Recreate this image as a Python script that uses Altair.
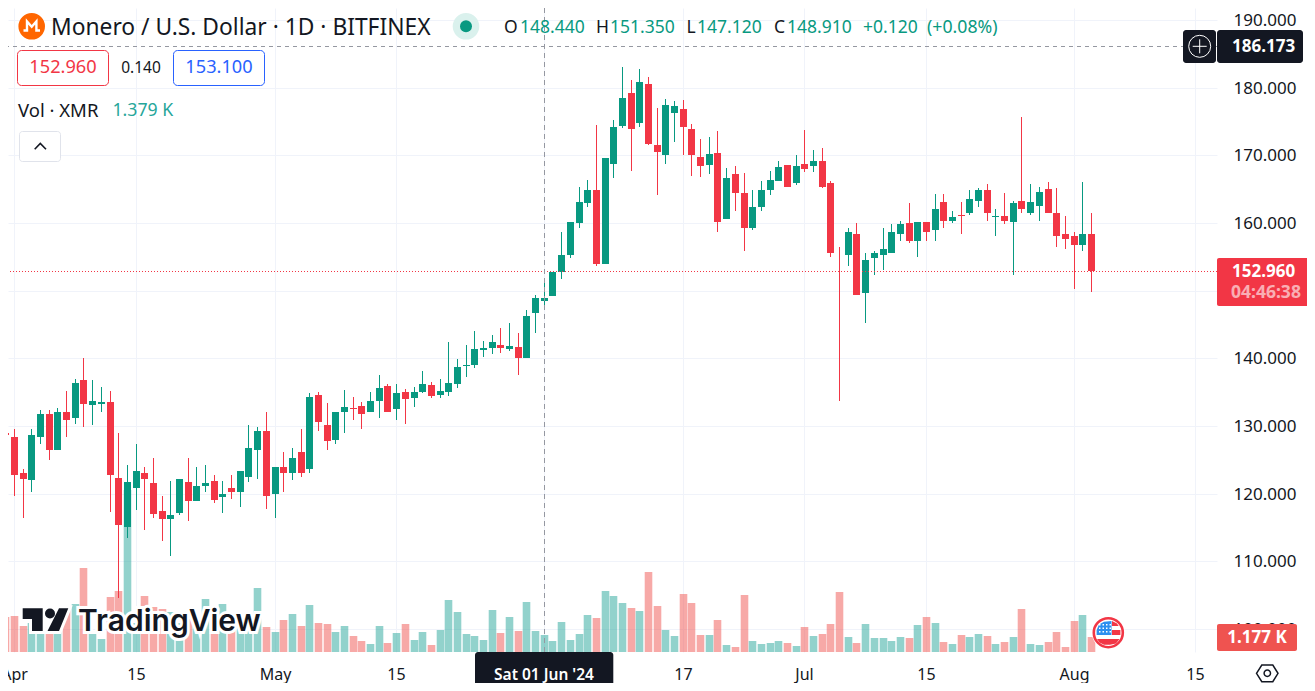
import altair as alt
import pandas as pd

# ---- data ----
start_date = "2024-03-31"
opens = [129.0,
 128.4,123.1,122.0,128.3,131.7,126.4,132.0,131.2,136.8,133.1,133.3,133.6,122.3,115.0,120.9,123.0,121.5,117.4,116.2,117.1,121.7,118.9,121.2,121.8,119.5,120.8,120.3,122.5,126.4,129.2,
 120.0,123.9,123.0,126.1,123.7,134.6,130.2,127.9,132.0,132.7,133.0,132.1,133.7,135.9,132.5,135.0,134.2,135.0,136.1,134.6,135.0,136.2,138.87,139.0,141.2,141.5,142.0,141.4,141.7,140.0,146.7,
 148.44,149.2,152.7,155.2,160.0,163.0,164.8,154.0,168.7,174.3,179.2,174.8,180.5,171.5,170.0,176.2,176.8,173.9,169.8,168.6,170.3,160.6,167.3,164.5,159.2,162.4,164.9,166.2,168.6,165.9,
 168.7,168.4,169.2,165.9,155.6,155.3,158.4,149.6,154.8,155.3,155.6,158.4,160.0,157.3,160.2,158.9,163.1,160.3,161.2,161.4,163.3,164.9,160.9,161.1,160.2,163.3,161.5,162.5,165.0,161.4,158.3,
 158.1,156.8,158.4]
closes = [128.6,
 122.8,122.1,128.6,131.7,126.5,132.0,130.9,136.4,133.3,133.7,133.6,122.8,115.3,121.7,123.3,122.1,117.0,116.2,116.8,122.1,118.9,121.2,121.5,119.0,120.0,120.2,123.3,126.7,129.2,119.6,
 123.9,123.0,125.3,123.1,134.3,130.6,127.8,132.0,132.8,132.5,131.8,133.7,135.6,132.1,134.8,134.0,135.0,136.2,134.5,135.2,136.4,138.7,139.02,141.4,141.5,142.4,141.5,141.8,140.0,146.2,148.9,
 148.91,152.8,155.2,160.2,163.1,164.8,154.0,169.6,174.2,178.4,173.9,180.9,171.7,170.5,177.5,177.3,174.2,170.0,168.4,170.2,160.2,166.7,164.5,159.2,162.3,164.8,166.4,168.3,165.3,168.4,
 168.0,169.2,165.3,155.6,155.5,158.7,149.3,154.6,155.6,156.2,158.7,159.8,157.3,160.2,158.6,162.1,160.3,160.9,161.1,163.6,164.8,161.4,161.1,160.3,163.0,162.0,163.1,164.6,161.5,158.0,157.7,
 156.7,158.4,152.96]
highs = [130.05,
 129.6,123.6,129.6,132.3,132.3,132.7,135.2,137.0,140.0,136.8,135.8,135.2,129.0,124.3,127.3,123.9,125.3,119.6,121.8,122.1,125.2,124.0,124.3,122.7,121.8,122.8,123.4,130.2,129.9,132.1,
 123.9,126.1,126.7,129.6,134.8,135.0,133.4,132.1,135.3,134.3,133.6,135.0,137.5,136.2,136.2,135.5,135.8,138.1,136.5,137.0,142.4,139.9,142.0,144.0,142.5,143.4,144.5,145.2,143.7,147.1,149.3,
 151.35,152.8,158.7,160.2,165.3,166.4,174.5,169.6,175.2,183.0,181.1,182.7,181.5,177.0,178.3,178.0,178.1,174.6,172.4,172.7,173.6,168.1,168.4,167.4,164.8,166.2,167.7,169.2,168.6,170.0,
 173.7,170.8,171.1,166.2,156.5,159.2,160.0,155.6,155.8,159.3,159.8,160.3,163.0,160.2,160.2,164.3,164.3,161.8,163.1,164.8,165.2,165.8,162.0,164.5,163.3,175.6,165.8,165.3,166.1,165.2,161.1,
 158.7,166.1,161.5]
lows = [127.4,
 119.6,116.4,120.2,127.4,125.0,126.4,128.4,130.3,129.9,130.2,132.1,117.3,104.6,113.4,117.6,114.6,116.4,113.0,110.8,116.8,115.9,118.9,120.3,118.6,117.1,119.2,118.1,121.7,122.1,117.8,
 116.4,120.3,122.0,122.5,123.1,129.3,126.4,127.3,129.0,130.9,129.5,132.1,131.2,132.1,130.9,130.3,132.8,134.8,134.2,134.2,134.5,135.6,137.2,138.6,140.2,140.6,140.8,141.1,137.5,140.0,143.7,
 147.12,149.2,151.7,154.8,159.3,162.3,153.7,154.0,166.7,174.0,167.7,174.2,171.5,164.2,168.7,172.0,170.0,167.0,166.8,167.3,158.6,160.6,161.8,155.9,158.9,161.7,164.2,166.2,165.3,165.6,
 167.5,167.5,165.2,155.0,133.7,153.7,149.3,145.2,152.3,153.1,155.6,157.4,157.0,154.9,157.3,157.3,159.2,160.0,158.4,161.2,162.3,160.3,158.1,159.8,152.3,161.4,161.2,160.3,161.4,156.5,156.1,
 150.3,155.9,149.8]
volumes = [2.82,
 2.90,2.10,2.31,2.45,2.04,1.90,3.39,3.87,6.77,1.45,1.05,4.44,4.92,13.06,2.31,4.52,3.63,3.47,3.23,2.30,2.70,2.70,4.27,3.39,3.87,2.98,2.98,2.70,5.16,2.02,
 1.61,2.58,3.06,2.10,3.79,2.34,2.26,1.61,2.10,1.29,0.89,0.65,2.10,0.73,1.53,2.26,0.97,1.61,0.56,1.77,4.19,3.23,1.45,1.29,0.97,3.39,1.53,2.82,1.69,4.03,1.69,
 1.379,0.89,2.42,0.97,1.45,2.98,2.74,4.92,4.52,3.95,3.55,3.31,6.45,3.71,1.77,1.29,4.68,3.95,1.37,1.37,2.58,0.56,0.40,4.60,0.89,0.65,0.73,0.89,0.73,0.48,
 2.02,1.29,1.45,2.26,4.84,1.21,0.73,2.26,1.13,1.13,0.89,1.21,1.13,2.18,2.82,2.34,0.81,0.65,1.37,1.21,1.45,1.29,0.65,0.81,1.21,3.47,0.65,0.56,0.81,1.61,0.40,
 2.50,2.98,1.177]
price_ticks = [100, 110, 120, 130, 140, 150, 160, 170, 180, 190]
date_tick_days = [0, 14, 30, 44, 61, 77, 91, 105, 122, 136]
date_tick_labels = ["Apr", "15", "May", "15", "Jun", "17", "Jul", "15", "Aug", "15"]
crosshair_price = 186.173
crosshair_day = 61
last_price = 152.96

GREEN, RED = "#089981", "#F23645"
VGREEN, VRED = "#26A69A", "#EF5350"
INK = "#131722"
GRID = "#F0F3FA"
FONT = "Noto Sans"

W, H = 1209, 644
df = pd.DataFrame({"date": pd.date_range(start_date, periods=len(opens)),
                   "open": opens, "close": closes, "high": highs, "low": lows, "vol": volumes})
df["day"] = (df["date"] - pd.Timestamp("2024-04-01")).dt.days
df["ccol"] = [GREEN if c >= o else RED for o, c in zip(opens, closes)]
df["vcol"] = [VGREEN if c >= o else VRED for o, c in zip(opens, closes)]

xs = alt.Scale(domain=[-6 / 8.685, (W - 6) / 8.685], nice=False, zero=False, round=True, padding=0)
ys = alt.Scale(domain=[96.60, 191.766], nice=False, zero=False, round=True, padding=0)
vs = alt.Scale(domain=[0, H / 12.4], nice=False, zero=True, round=True, padding=0)

label_expr = "%s[indexof(%s, datum.value)]" % (date_tick_labels, date_tick_days)
x_axis = alt.Axis(values=date_tick_days, labelExpr=label_expr, title=None, domain=False, ticks=False,
                  grid=True, gridColor=GRID, gridWidth=1, labelFont=FONT, labelFontSize=16, labelColor=INK,
                  labelPadding=22, labelBaseline="middle", labelFlush=False, labelOverlap=False, labelBound=False)
y_axis = alt.Axis(values=price_ticks, format=".3f", orient="right", title=None, domain=False, ticks=False,
                  grid=True, gridColor=GRID, gridWidth=1, labelFont=FONT, labelFontSize=17, labelColor=INK,
                  labelPadding=16, labelAlign="left", labelBaseline="middle", labelOverlap=False, labelBound=False)

vol = alt.Chart(df).mark_bar(size=7.6, xOffset=0.5, opacity=0.5, orient="vertical").encode(
    x=alt.X("day:Q", scale=xs, axis=x_axis),
    y=alt.Y("vol:Q", scale=vs, axis=None),
    color=alt.Color("vcol:N", scale=None))
wick = alt.Chart(df).mark_rule(strokeWidth=1, xOffset=0.5).encode(
    x=alt.X("day:Q", scale=xs, axis=x_axis),
    y=alt.Y("low:Q", scale=ys, axis=y_axis), y2="high:Q",
    color=alt.Color("ccol:N", scale=None))
body = alt.Chart(df).mark_bar(size=7, xOffset=0.5, orient="vertical").encode(
    x=alt.X("day:Q", scale=xs, axis=x_axis),
    y=alt.Y("open:Q", scale=ys, axis=None), y2="close:Q",
    color=alt.Color("ccol:N", scale=None))

one = alt.Data(values=[{"a": 1}])
def px(x): return round(x - 8, 2)

def txt(x, y, s, color=INK, size=16, align="left", weight="normal", font=FONT, opacity=1.0, **kw):
    return alt.Chart(one).mark_text(text=s, color=color, fontSize=size, align=align, baseline="middle",
                                    fontWeight=weight, font=font, opacity=opacity, **kw).encode(
        x=alt.value(px(x)), y=alt.value(px(y)))

def box(x0, y0, x1, y1, **kw):
    return alt.Chart(one).mark_rect(**kw).encode(
        x=alt.value(px(x0)), x2=alt.value(px(x1)), y=alt.value(px(y0)), y2=alt.value(px(y1)))

def path(points, close=True):
    d = "M" + " L".join("%.1f %.1f" % (a - 8, b - 8) for a, b in points)
    return d + (" Z" if close else "")

def shape(d, **kw):
    return alt.Chart(one).mark_point(shape=d, size=4, opacity=1, **kw).encode(x=alt.value(0), y=alt.value(0))

def circle(x, y, r, **kw):
    return alt.Chart(one).mark_point(shape="circle", size=(2 * r) ** 2, opacity=1, **kw).encode(
        x=alt.value(px(x)), y=alt.value(px(y)))

# crosshair + last-price lines
dotted = alt.Chart(pd.DataFrame({"p": [last_price]})).mark_rule(
    color=RED, strokeWidth=1, strokeDash=[1, 2], yOffset=0.5).encode(y=alt.Y("p:Q", scale=ys, axis=None))
cross_h = alt.Chart(pd.DataFrame({"p": [crosshair_price]})).mark_rule(
    color="#9598A1", strokeWidth=1, strokeDash=[4, 4], yOffset=0.5).encode(y=alt.Y("p:Q", scale=ys, axis=None))
cross_v = alt.Chart(pd.DataFrame({"d": [crosshair_day]})).mark_rule(
    color="#9598A1", strokeWidth=1, strokeDash=[5, 4], xOffset=0.5).encode(x=alt.X("d:Q", scale=xs, axis=x_axis))

# TradingView watermark
logo = (path([(22.7, 608.3), (42.7, 608.3), (42.7, 631), (32, 631), (32, 619), (22.7, 619)]) + " " +
        path([(59, 608.3), (68.3, 608.3), (59, 631), (47.5, 631)]))
wm = [
    shape(logo, fill="white", stroke="white", strokeWidth=6, filled=True),
    circle(50, 613.5, 7.5, fill="white", filled=True),
    txt(78, 621.5, "TradingView", color="white", size=30, weight=600, font="Inter", stroke="white", strokeWidth=6),
    shape(logo, fill=INK, filled=True),
    circle(50, 613.5, 5, fill=INK, filled=True),
    txt(78, 621.5, "TradingView", color=INK, size=30, weight=600, font="Inter"),
]

# US flag badge
cx, cy = 1108.3, 632.7
dots = " ".join(path([(a, b), (a + 1.5, b), (a + 1.5, b + 1.5), (a, b + 1.5)])
                for a in (1099, 1102.5, 1106, 1109.5) for b in (624, 627.5, 631))
flag = [
    circle(cx, cy, 16.5, fill="white", filled=True),
    circle(cx, cy, 14.5, fill="white", stroke=RED, strokeWidth=2.6, filled=True),
    shape(path([(1111.5, 621), (1104, 621.8), (1099, 624.5), (1096.6, 630), (1096.6, 635), (1111.5, 635)]),
          fill="#2E8FEF", filled=True),
    shape(path([(1112, 621), (1117, 623.5), (1118.7, 626), (1112, 626)]), fill=RED, filled=True),
    shape(path([(1112, 630), (1120.4, 630), (1120.4, 635), (1112, 635)]), fill=RED, filled=True),
    shape(path([(1097, 639), (1119.5, 639), (1116, 643.5), (1110, 644.7), (1104, 644.7), (1099.5, 642.5)]),
          fill=RED, filled=True),
    shape(dots, fill="white", filled=True),
]

# header
ty = 27.5
header = [
    circle(31.7, 26.3, 13.3, fill="#FF6600", filled=True),
    shape(path([(23.5, 30.5), (27, 30.5), (27, 21.5), (31.7, 26.8), (36.4, 21.5), (36.4, 30.5), (40, 30.5)], close=False),
          stroke="white", strokeWidth=2.4, filled=False),
    txt(51, ty, "Monero / U.S. Dollar · 1D · BITFINEX", size=22.8),
    circle(466, 26.3, 13.3, fill="#DAF1ED", filled=True),
    circle(466, 26.3, 6, fill=GREEN, filled=True),
    txt(504, ty, "O", size=17.5), txt(520, ty, "148.440", GREEN, 17.5),
    txt(596, ty, "H", size=17.5), txt(610, ty, "151.350", GREEN, 17.5),
    txt(686.5, ty, "L", size=17.5), txt(697, ty, "147.120", GREEN, 17.5),
    txt(774, ty, "C", size=17.5), txt(787, ty, "148.910", GREEN, 17.5),
    txt(863, ty, "+0.120", GREEN, 17.5), txt(927, ty, "(+0.08%)", GREEN, 17.7),
    box(17.5, 50.5, 108.5, 85.5, fill="white", stroke=RED, strokeWidth=1, cornerRadius=4),
    txt(63, 68.3, "152.960", RED, 18.2, "center"),
    txt(141, 68.3, "0.140", INK, 15.5, "center"),
    box(173.5, 50.5, 264.5, 85.5, fill="white", stroke="#2962FF", strokeWidth=1, cornerRadius=4),
    txt(219, 68.3, "153.100", "#2962FF", 18.2, "center"),
    txt(18, 110.5, "Vol · XMR", size=18.5),
    txt(112.5, 110.5, "1.379 K", VGREEN, 17.7),
    box(19.5, 131.5, 60.5, 161.5, fill="white", stroke="#E0E3EB", strokeWidth=1, cornerRadius=3),
    shape(path([(34.7, 149.3), (40.3, 143.5), (46, 149.3)], close=False), stroke=INK, strokeWidth=1.6, filled=False),
]

# price-axis tags and bottom items
tags = [
    box(1183, 30, 1216, 63, fill=INK, cornerRadius=3),
    circle(1199.7, 46.3, 11, stroke="white", strokeWidth=1, filled=False),
    shape(path([(1192.7, 46.3), (1206.7, 46.3)], close=False) + " " + path([(1199.7, 39.3), (1199.7, 53.3)], close=False),
          stroke="white", strokeWidth=1, filled=False),
    box(1217, 30, 1303, 63, fill=INK, cornerRadius=3),
    txt(1232, 46.5, "186.173", "white", 17, weight="bold"),
    box(1217, 258, 1309, 306, fill=RED, cornerRadius=2),
    txt(1232, 271.5, "152.960", "white", 17, weight="bold"),
    txt(1231, 293, "04:46:38", "white", 17.5, weight="bold", opacity=0.6),
    box(1217, 624, 1297, 651, fill=VRED, cornerRadius=2),
    txt(1257, 637.5, "1.177 K", "white", 17, "center", weight="bold"),
    box(475, 652, 613.3, 687, fill=INK, cornerRadius=3),
    txt(544, 675, "Sat 01 Jun '24", "white", 15.5, "center", weight=600),
    shape(path([(1256.5, 673.3), (1261.8, 665), (1272.8, 665), (1278, 673.3), (1272.8, 681.7), (1261.8, 681.7)]),
          stroke=INK, strokeWidth=1.5, filled=False),
    circle(1267.3, 673.3, 3.2, stroke=INK, strokeWidth=1.5, filled=False),
]

chart = alt.layer(vol, wick, body, *wm, dotted, cross_h, cross_v, *flag, *header, *tags).resolve_scale(
    y="independent"
).properties(
    width=W, height=H, padding={"left": 0, "top": 0, "right": 90, "bottom": 31},
    autosize=alt.AutoSizeParams(type="none"), background="white"
).configure_view(strokeWidth=0)

chart.save("out.html", embed_options={"renderer": "svg", "actions": False})
